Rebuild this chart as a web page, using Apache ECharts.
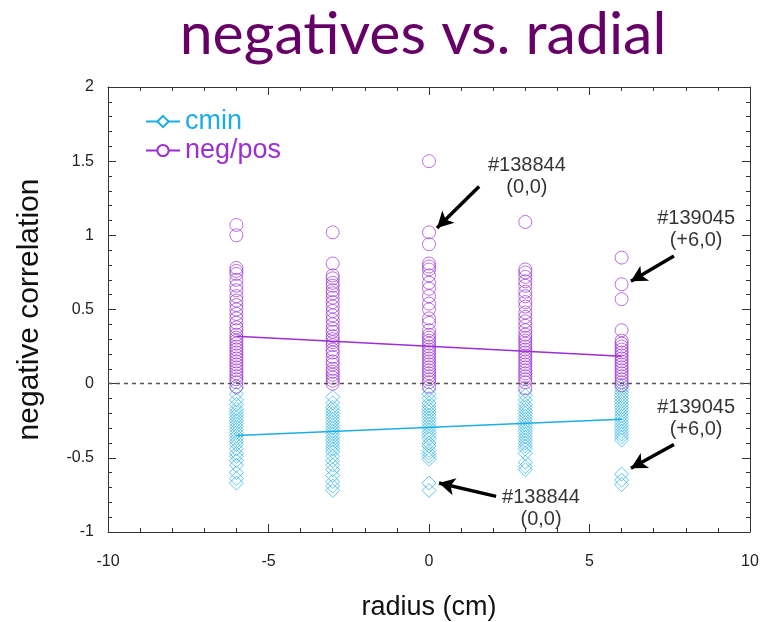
<!DOCTYPE html>
<html>
<head>
<meta charset="utf-8">
<script src="https://cdn.jsdelivr.net/npm/echarts@6/dist/echarts.min.js"></script>
<style>html,body{margin:0;padding:0;background:#fff}#c{width:763px;height:622px}</style>
</head>
<body>
<div id="c"></div>
<script>
// ---- data ----
const radii = [-6, -3, 0, 3, 6];
const negPosM6 = [1.07, 1.0, 0.78, 0.76, 0.74, 0.70, 0.66, 0.63, 0.59, 0.56, 0.53, 0.50, 0.47, 0.44, 0.41, 0.38, 0.36, 0.33, 0.31, 0.29, 0.27, 0.25, 0.23, 0.21, 0.19, 0.17, 0.15, 0.13, 0.11, 0.09, 0.07, 0.05, 0.03, 0.01, -0.02];
const negPosM3 = [1.02, 0.81, 0.73, 0.71, 0.68, 0.66, 0.63, 0.61, 0.58, 0.55, 0.52, 0.49, 0.46, 0.43, 0.40, 0.37, 0.35, 0.32, 0.30, 0.28, 0.26, 0.23, 0.21, 0.18, 0.15, 0.13, 0.10, 0.08, 0.06, 0.04, 0.02, 0.0];
const negPos0 = [1.50, 1.02, 0.94, 0.81, 0.79, 0.77, 0.73, 0.68, 0.64, 0.59, 0.54, 0.50, 0.44, 0.41, 0.36, 0.33, 0.31, 0.29, 0.27, 0.25, 0.23, 0.21, 0.19, 0.17, 0.15, 0.13, 0.11, 0.09, 0.07, 0.05, 0.03, 0.01, -0.02];
const negPosP3 = [1.09, 0.77, 0.75, 0.72, 0.69, 0.66, 0.62, 0.59, 0.55, 0.52, 0.48, 0.45, 0.42, 0.39, 0.36, 0.33, 0.31, 0.29, 0.27, 0.25, 0.23, 0.21, 0.19, 0.17, 0.15, 0.13, 0.11, 0.09, 0.07, 0.05, 0.03, 0.01, -0.03];
const negPosP6 = [0.85, 0.67, 0.57, 0.36, 0.29, 0.27, 0.25, 0.23, 0.21, 0.19, 0.17, 0.15, 0.13, 0.11, 0.09, 0.07, 0.05, 0.03, 0.01, -0.01];

const cminM6 = [-0.03, -0.07, -0.11, -0.14, -0.17, -0.19, -0.21, -0.23, -0.25, -0.27, -0.29, -0.31, -0.33, -0.35, -0.37, -0.39, -0.41, -0.44, -0.47, -0.49, -0.52, -0.55, -0.60, -0.64, -0.67];
const cminM3 = [-0.09, -0.13, -0.16, -0.18, -0.20, -0.22, -0.24, -0.26, -0.28, -0.30, -0.32, -0.34, -0.36, -0.38, -0.40, -0.42, -0.44, -0.46, -0.49, -0.52, -0.55, -0.58, -0.62, -0.66, -0.69, -0.72];
const cmin0 = [-0.04, -0.07, -0.10, -0.13, -0.15, -0.17, -0.19, -0.21, -0.23, -0.25, -0.27, -0.29, -0.31, -0.33, -0.35, -0.37, -0.40, -0.42, -0.45, -0.47, -0.49, -0.51, -0.67, -0.72];
const cminP3 = [-0.05, -0.08, -0.11, -0.14, -0.16, -0.18, -0.20, -0.22, -0.24, -0.26, -0.28, -0.30, -0.32, -0.34, -0.36, -0.38, -0.40, -0.42, -0.44, -0.47, -0.53, -0.56, -0.58];
const cminP6 = [-0.02, -0.04, -0.06, -0.08, -0.10, -0.12, -0.14, -0.16, -0.18, -0.20, -0.22, -0.24, -0.26, -0.28, -0.30, -0.32, -0.34, -0.36, -0.38, -0.61, -0.65, -0.68];

// linear fits (x endpoints, y values)
const fitX = [-6, 6];
const fitNegPos = [0.32, 0.185];
const fitCmin = [-0.35, -0.24];

// annotations: label text and anchor (data coords), arrow start/end (data coords)
const annotTexts = ['#138844\n(0,0)', '#139045\n(+6,0)', '#139045\n(+6,0)', '#138844\n(0,0)'];
const annotAnchors = [[3.05, 1.40], [8.32, 1.04], [8.32, -0.236], [3.49, -0.84]];
const arrowFrom = [[1.56, 1.33], [7.63, 0.86], [7.63, -0.41], [2.09, -0.76]];
const arrowTo = [[0.25, 1.05], [6.29, 0.69], [6.29, -0.57], [0.31, -0.67]];

const xTicks = { min: -10, max: 10, interval: 5 };
const yTicks = { min: -1, max: 2, interval: 0.5 };

// ---- build ----
const CYAN = '#1aade6';
const PURPLE = '#9a2fd3';
const negCols = [negPosM6, negPosM3, negPos0, negPosP3, negPosP6];
const cminCols = [cminM6, cminM3, cmin0, cminP3, cminP6];
const negData = [], cminData = [];
radii.forEach((r, i) => {
  negCols[i].forEach(v => negData.push([r, v]));
  cminCols[i].forEach(v => cminData.push([r, v]));
});
const fitNegData = fitX.map((x, i) => [x, fitNegPos[i]]);
const fitCminData = fitX.map((x, i) => [x, fitCmin[i]]);

const FONT = '"Liberation Sans", Arial, Helvetica, sans-serif';

const chart = echarts.init(document.getElementById('c'), null, { renderer: 'canvas' });

function axisCommon() {
  return {
    axisLine: { show: true, onZero: false, lineStyle: { color: '#333', width: 1 } },
    axisTick: { show: true, inside: true, length: 8, lineStyle: { color: '#333' } },
    minorTick: { show: true, splitNumber: 5, length: 4, lineStyle: { color: '#333' } },
    splitLine: { show: false },
    minorSplitLine: { show: false }
  };
}

chart.setOption({
  animation: false,
  backgroundColor: '#fff',
  title: {
    text: 'negatives vs. radial',
    left: 418, top: 0, textAlign: 'center',
    textStyle: { fontFamily: 'Lato, "Open Sans", sans-serif', fontSize: 59, fontWeight: 'normal', color: '#660066' }
  },
  grid: { left: 108, right: 13, top: 87, bottom: 90, outerBoundsMode: 'none', containLabel: false },
  legend: {
    orient: 'vertical', left: 140, top: 103,
    itemWidth: 34, itemHeight: 14, itemGap: 2,
    data: [
      { name: 'cmin', textStyle: { color: CYAN } },
      { name: 'neg/pos', textStyle: { color: PURPLE } }
    ],
    textStyle: { fontFamily: FONT, fontSize: 27 }
  },
  xAxis: [
    Object.assign({
      type: 'value', position: 'bottom', min: xTicks.min, max: xTicks.max, interval: xTicks.interval,
      name: 'radius (cm)', nameLocation: 'middle', nameGap: 62,
      nameTextStyle: { fontFamily: FONT, fontSize: 27, color: '#111' },
      axisLabel: { fontFamily: FONT, fontSize: 16, color: '#222', margin: 22 }
    }, axisCommon()),
    Object.assign({
      type: 'value', position: 'top', min: xTicks.min, max: xTicks.max, interval: xTicks.interval,
      axisLabel: { show: false }
    }, axisCommon())
  ],
  yAxis: [
    Object.assign({
      type: 'value', position: 'left', min: yTicks.min, max: yTicks.max, interval: yTicks.interval,
      name: 'negative correlation', nameLocation: 'middle', nameGap: 63,
      nameTextStyle: { fontFamily: FONT, fontSize: 30, color: '#111' },
      axisLabel: { fontFamily: FONT, fontSize: 16, color: '#222', margin: 14 }
    }, axisCommon()),
    Object.assign({
      type: 'value', position: 'right', min: yTicks.min, max: yTicks.max, interval: yTicks.interval,
      axisLabel: { show: false }
    }, axisCommon())
  ],
  series: [
    {
      name: 'cmin', type: 'line', data: fitCminData, symbol: 'diamond', symbolSize: 12, showSymbol: false,
      lineStyle: { color: CYAN, width: 1.5 },
      itemStyle: { color: '#fff', borderColor: CYAN, borderWidth: 1 }, z: 4
    },
    {
      name: 'neg/pos', type: 'line', data: fitNegData, symbol: 'circle', symbolSize: 12, showSymbol: false,
      lineStyle: { color: PURPLE, width: 1.5 },
      itemStyle: { color: '#fff', borderColor: PURPLE, borderWidth: 1 }, z: 4
    },
    {
      name: 'cmin', type: 'scatter', data: cminData, symbol: 'diamond', symbolSize: [14, 14],
      itemStyle: { color: 'rgba(255,255,255,0)', borderColor: 'rgba(26,173,230,0.85)', borderWidth: 1 }, z: 2
    },
    {
      name: 'neg/pos', type: 'scatter', data: negData, symbol: 'circle', symbolSize: 13,
      itemStyle: { color: 'rgba(255,255,255,0)', borderColor: 'rgba(154,47,211,0.85)', borderWidth: 1 }, z: 3,
      markLine: {
        silent: true, symbol: ['none', 'none'],
        lineStyle: { color: '#555', type: [4, 4], width: 1.3 },
        label: { show: false },
        data: [{ yAxis: 0 }]
      }
    },
    {
      name: 'annot', type: 'scatter', symbolSize: 0,
      data: annotAnchors.map((p, i) => ({ value: p, name: annotTexts[i] })),
      label: {
        show: true, position: 'inside', formatter: p => p.name,
        fontFamily: FONT, fontSize: 20, lineHeight: 22, color: '#000', align: 'center', verticalAlign: 'middle',
        textBorderWidth: 0
      },
      z: 6,
      markLine: {
        silent: true, symbol: ['none', 'arrow'], symbolSize: [13, 16],
        lineStyle: { color: '#000', type: 'solid', width: 3.5 },
        label: { show: false },
        data: arrowFrom.map((p, i) => [{ coord: p }, { coord: arrowTo[i] }])
      }
    }
  ]
});
</script>
</body>
</html>
